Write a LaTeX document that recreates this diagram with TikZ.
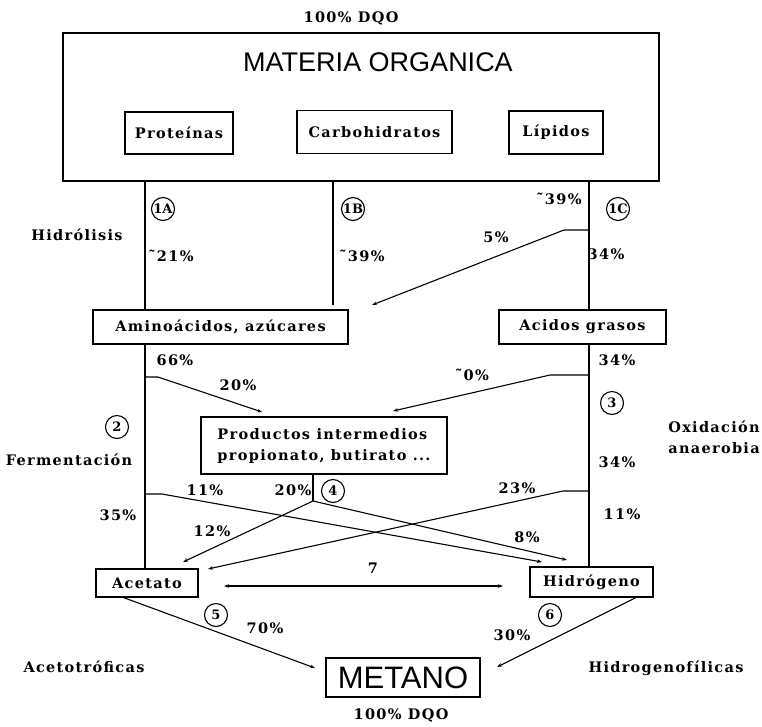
\documentclass[tikz,border=0pt]{standalone}
\usepackage{fontspec}
\setmainfont{DejaVu Serif}
\newfontfamily\labfont[LetterSpace=9]{DejaVu Serif Bold}
\newfontfamily\numfont{DejaVu Serif Bold}
\newfontfamily\titfont{Liberation Sans}
\usetikzlibrary{arrows.meta}
\tikzset{
	lab/.style={font=\labfont\fontsize{14.5}{21}\selectfont},
	box/.style={draw,rectangle,align=center,lab,inner sep=0pt},
	num/.style={draw,circle,minimum size=23pt,inner sep=0pt,font=\numfont\fontsize{13}{13}\selectfont},
	titulo/.style={font=\titfont\fontsize{27}{30}\selectfont},
	metano/.style={draw,rectangle,inner sep=0pt,font=\titfont\fontsize{31}{34}\selectfont},
	>={Stealth[length=5pt,width=3.5pt]}
}

\begin{document}
\begin{tikzpicture}[x=1pt,y=-1pt,line width=1.1pt]
	\useasboundingbox (0,0) rectangle (762,726);
	\node[lab] (dqotop) at (351,18) {100\% DQO};
	\node[draw,rectangle,minimum width=596pt,minimum height=148pt] (mo) at (361,107) {};
	\node[titulo] (motit) at (378,62) {MATERIA ORGANICA};
	\node[box,minimum width=108pt,minimum height=42pt] (prot) at (179,133) {Proteínas};
	\node[box,minimum width=155pt,minimum height=43pt] (carb) at (374.5,132) {Carbohidratos};
	\node[box,minimum width=94pt,minimum height=43pt] (lip) at (556,132.5) {Lípidos};
	\node[box,minimum width=255pt,minimum height=34pt] (amino) at (220.5,327) {Aminoácidos, azúcares};
	\node[box,minimum width=167pt,minimum height=34pt] (acid) at (582.5,327) {Acidos grasos};
	\node[box,align=left,minimum width=246pt,minimum height=57pt] (prod) at (324,445.5) {Productos intermedios\\propionato, butirato ...};
	\node[box,minimum width=102pt,minimum height=28pt] (acet) at (147,583) {Acetato};
	\node[box,minimum width=123pt,minimum height=30pt] (hidr) at (591.5,582) {Hidrógeno};
	\node[metano,minimum width=154pt,minimum height=39pt] (met) at (403,677.5) {METANO};

	\node[num] (n1a) at (163,209) {1A};
	\node[num] (n1b) at (353,209) {1B};
	\node[num] (n1c) at (618,209) {1C};
	\node[num] (n2) at (117,427) {2};
	\node[num] (n3) at (612,403) {3};
	\node[num] (n4) at (333,491) {4};
	\node[num] (n5) at (216,615) {5};
	\node[num] (n6) at (550,615) {6};

	\node[lab] (hidro) at (77,235) {Hidrólisis};
	\node[lab] (ferm) at (69,460) {Fermentación};
	\node[lab,align=center] (oxid) at (714,437.5) {Oxidación\\anaerobia};
	\node[lab] (acetr) at (84,667) {Acetotróficas};
	\node[lab] (hidrf) at (666,668) {Hidrogenofílicas};
	\node[lab] (dqobot) at (401,715) {100\% DQO};

	\node[lab] (p39a) at (559,199) {˜39\%};
	\node[lab] (p5) at (496,237) {5\%};
	\node[lab] (p21) at (171,256) {˜21\%};
	\node[lab] (p39b) at (362,256) {˜39\%};
	\node[lab] (p34a) at (606,254) {34\%};
	\node[lab] (p66) at (175,360) {66\%};
	\node[lab] (p34b) at (617,360) {34\%};
	\node[lab] (p20a) at (238,385) {20\%};
	\node[lab] (p0) at (472,375) {˜0\%};
	\node[lab] (p34c) at (617,462) {34\%};
	\node[lab] (p11a) at (205,490) {11\%};
	\node[lab] (p20b) at (293,490) {20\%};
	\node[lab] (p23) at (517,488) {23\%};
	\node[lab] (p35) at (118,515) {35\%};
	\node[lab] (p11b) at (622,514) {11\%};
	\node[lab] (p12) at (212,531) {12\%};
	\node[lab] (p8) at (527,537) {8\%};
	\node[lab] (p7) at (373,568) {7};
	\node[lab] (p70) at (265,628) {70\%};
	\node[lab] (p30) at (512,635) {30\%};

	\node[coordinate] (xa) at (145,0) {};
	\node[coordinate] (xb) at (333,0) {};
	\node[coordinate] (xc) at (589,0) {};
	\node[coordinate] (xd) at (313,0) {};
	\node[coordinate] (fin1b) at (333,305) {};
	\node[coordinate] (r5) at (564,230) {};
	\node[coordinate] (t5) at (372,305) {};
	\node[coordinate] (r20) at (158,377) {};
	\node[coordinate] (t20) at (262,412) {};
	\node[coordinate] (r0) at (550,375) {};
	\node[coordinate] (t0) at (393,411) {};
	\node[coordinate] (j4) at (313,501) {};
	\node[coordinate] (t12) at (183,562) {};
	\node[coordinate] (t8) at (567,560) {};
	\node[coordinate] (r11) at (162,494) {};
	\node[coordinate] (t11) at (542,562) {};
	\node[coordinate] (r23) at (563,491) {};
	\node[coordinate] (t23) at (208,569) {};
	\node[coordinate] (t7a) at (224,586) {};
	\node[coordinate] (t7b) at (503,586) {};
	\node[coordinate] (s70) at (122,597) {};
	\node[coordinate] (t70) at (315,668) {};
	\node[coordinate] (s30) at (637,597) {};
	\node[coordinate] (t30) at (497,667) {};

	\draw (xa |- mo.south) -- (xa |- amino.north);
	\draw (xa |- amino.south) -- (xa |- acet.north);
	\draw (xb |- mo.south) -- (fin1b);
	\draw (xc |- mo.south) -- (xc |- acid.north);
	\draw (xc |- acid.south) -- (xc |- hidr.north);
	\draw (xd |- prod.south) -- (j4);
	\draw[->] (xc |- r5) -- (r5) -- (t5);
	\draw[->] (xa |- r20) -- (r20) -- (t20);
	\draw[->] (xc |- r0) -- (r0) -- (t0);
	\draw[->] (xa |- r11) -- (r11) -- (t11);
	\draw[->] (xc |- r23) -- (r23) -- (t23);
	\draw[->] (j4) -- (t12);
	\draw[->] (j4) -- (t8);
	\draw[<->] (t7a) -- (t7b);
	\draw[->] (s70) -- (t70);
	\draw[->] (s30) -- (t30);
\end{tikzpicture}
\end{document}
